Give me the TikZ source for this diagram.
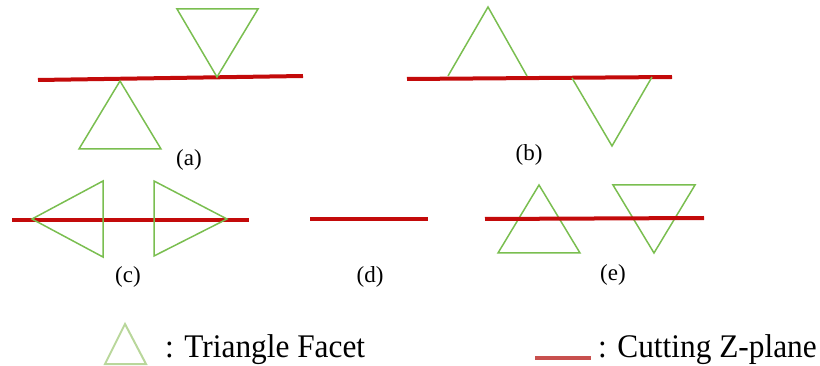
\documentclass[tikz,border=0pt]{standalone}
\usepackage{fontspec}
\setmainfont{Liberation Serif}
\definecolor{facet}{RGB}{122,190,80}
\definecolor{facetlight}{RGB}{185,215,155}
\definecolor{zplane}{RGB}{195,10,10}
\definecolor{zplanelight}{RGB}{200,80,78}
\tikzset{
  facetline/.style={draw=facet, line width=1.5pt, line join=miter},
  planeline/.style={draw=zplane, line width=4pt},
  sublabel/.style={font=\fontsize{23}{26}\selectfont, inner sep=0pt},
  legendtext/.style={font=\fontsize{33}{36}\selectfont, inner sep=0pt, anchor=base west}
}
\begin{document}
\begin{tikzpicture}[x=1pt,y=-1pt]
\useasboundingbox (0,0) rectangle (820,366);
% (a)
\draw[planeline] (38,80) -- (303,76);
\draw[facetline] (120,81) -- (79,149) -- (161,149) -- cycle;
\draw[facetline] (177,9) -- (258,9) -- (217,77) -- cycle;
\node[sublabel] (la) at (189,160) {(a)};
% (b)
\draw[planeline] (407,79) -- (672,77);
\draw[facetline] (448,76) -- (488,7) -- (527,76);
\draw[facetline] (572,78) -- (612,146) -- (652,77);
\node[sublabel] (lb) at (529,155) {(b)};
% (c)
\draw[planeline] (12,220) -- (249,220);
\draw[facetline] (32,219) -- (103,181) -- (103,257) -- cycle;
\draw[facetline] (227,219) -- (154,181) -- (154,256) -- cycle;
\node[sublabel] (lc) at (128,277) {(c)};
% (d)
\draw[planeline] (310,219) -- (428,219);
\node[sublabel] (ld) at (370,277) {(d)};
% (e)
\draw[facetline] (539,185) -- (498,253) -- (580,253) -- cycle;
\draw[facetline] (613,185) -- (695,185) -- (654,253) -- cycle;
\draw[planeline] (485,219) -- (704,218);
\node[sublabel] (le) at (613,275) {(e)};
% legend
\draw[draw=facetlight, line width=2pt] (125,324) -- (105,364) -- (146,364) -- cycle;
\node[legendtext] (t1) at (165,357) {\scalebox{0.95}[1]{: Triangle Facet}};
\draw[draw=zplanelight, line width=4pt] (535,358) -- (591,358);
\node[legendtext] (t2) at (598,357) {\scalebox{0.95}[1]{: Cutting Z-plane}};
\end{tikzpicture}
\end{document}
